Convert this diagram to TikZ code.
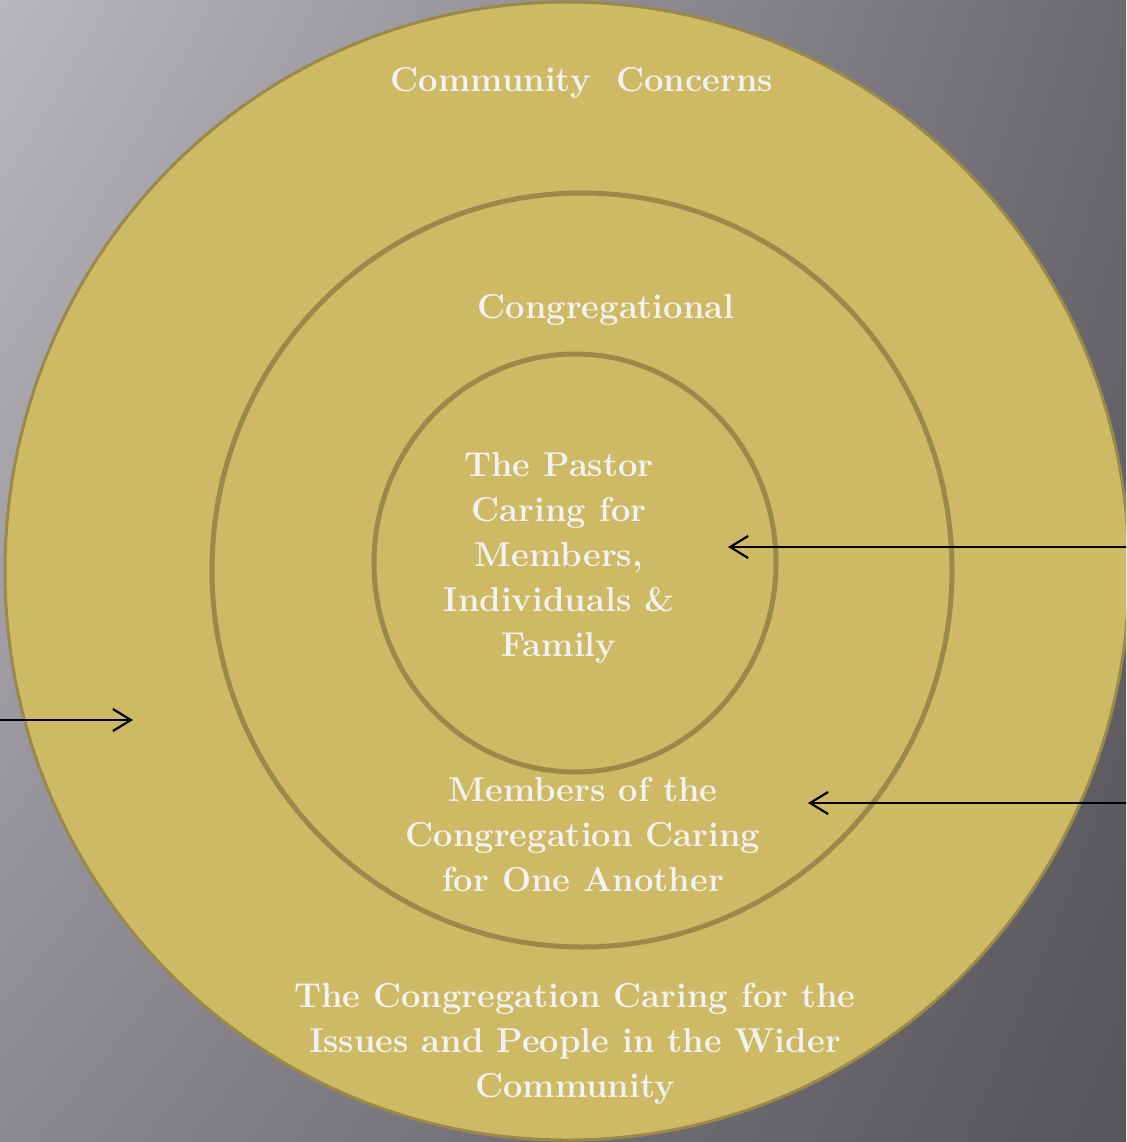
\documentclass[tikz,border=0pt]{standalone}
\usepackage{tikz}
\usetikzlibrary{arrows.meta,shapes.geometric,shadings}
\definecolor{ring}{HTML}{CEB965}
\definecolor{ringline}{HTML}{9A8A4A}
\definecolor{label}{HTML}{F2F2F2}
\definecolor{bgul}{RGB}{185,182,188}
\definecolor{bgur}{RGB}{108,105,112}
\definecolor{bgll}{RGB}{139,136,144}
\definecolor{bglr}{RGB}{87,84,90}

\begin{document}
\begin{tikzpicture}[x=1pt,y=-1pt,thick]
    \tikzstyle{band}=[ellipse,draw=ringline,fill=ring,inner sep=0pt]
    \tikzstyle{caption}=[text=label,font=\fontsize{34.5}{45}\selectfont\bfseries,align=center]
    \tikzstyle{pointer}=[-{Straight Barb[length=18pt,width=22pt,line width=2.2pt]},line width=1.6pt,black]
    \useasboundingbox (0,0) rectangle (1126,1142);
    \begin{scope}
      \clip (0,0) rectangle (1126,1142);
      \shade[upper left=bgul,upper right=bgur,lower left=bgll,lower right=bglr]
        (0,0) rectangle (1126,1142);
      % the three rings
      \node[band,line width=3pt,minimum width=1124pt,minimum height=1138pt] (wide) at (567,571) {};
      \node[band,line width=5pt,minimum width=740pt,minimum height=754pt] (cong) at (582,570) {};
      \node[band,line width=5pt,minimum width=402pt,minimum height=418pt] (pastor) at (575,563) {};
    \end{scope}
    \node[caption] (t1) at (582,83) {Community\ \ Concerns};
    \node[caption] (t2) at (606,310) {Congregational};
    \node[caption] (t3) at (559,558) {The Pastor\\Caring for\\Members,\\Individuals \&\\Family};
    \node[caption] (t4) at (583,835) {Members of the\\Congregation Caring\\for One Another};
    \node[caption] (t5) at (575,1044) {The Congregation Caring for the\\Issues and People in the Wider\\Community};
    % free ends of the pointers
    \coordinate (r1) at (1126,547);
    \coordinate (h1) at (728,547);
    \coordinate (r2) at (1126,803);
    \coordinate (h2) at (808,803);
    \coordinate (l1) at (0,720);
    \coordinate (h3) at (133,720);
    \draw[pointer] (r1) -- (h1);
    \draw[pointer] (r2) -- (h2);
    \draw[pointer] (l1) -- (h3);
\end{tikzpicture}
\end{document}
